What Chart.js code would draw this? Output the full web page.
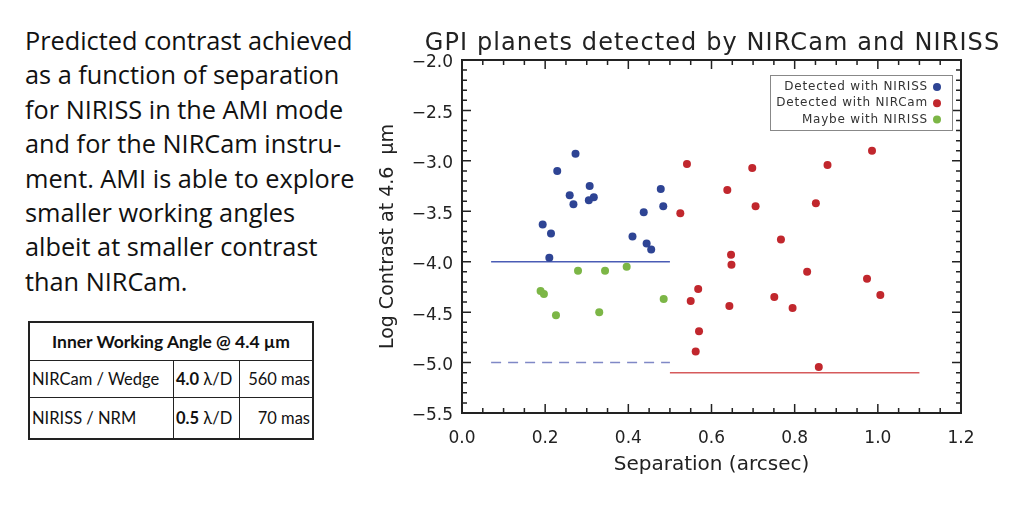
<!DOCTYPE html>
<html>
<head>
<meta charset="UTF-8">
<title>GPI planets detected by NIRCam and NIRISS</title>
<script src="https://cdn.jsdelivr.net/npm/chart.js"></script>
<style>
  body { margin: 0; background: #fff; width: 1024px; height: 512px; overflow: hidden; position: relative; }
  #blurb { position: absolute; left: 25px; top: 23px; font-family: "Open Sans", sans-serif; font-size: 25.3px; line-height: 34.4px; color: #111; white-space: nowrap; }
  #iwa { position: absolute; left: 28px; top: 321px; border-collapse: collapse; border: 2px solid #222; font-family: Lato, sans-serif; font-size: 16.5px; color: #111; }
  #iwa td { border: 1px solid #222; padding: 0 2px; white-space: nowrap; }
  #iwa .hd { font-weight: bold; text-align: center; height: 37px; font-size: 17.5px; }
  #iwa .r { text-align: right; }
  #wrap { position: absolute; left: 360px; top: 0; width: 664px; height: 512px; }
</style>
</head>
<body>
<div id="blurb">Predicted contrast achieved<br>as a function of separation<br>for NIRISS in the AMI mode<br>and for the NIRCam instru-<br>ment. AMI is able to explore<br>smaller working angles<br>albeit at smaller contrast<br>than NIRCam.</div>

<table id="iwa">
  <tr><td class="hd" colspan="3">Inner Working Angle @ 4.4 µm</td></tr>
  <tr style="height:37px"><td style="width:139px">NIRCam / Wedge</td><td style="width:61px"><b>4.0</b> λ/D</td><td class="r" style="width:68px">560 mas</td></tr>
  <tr style="height:41px"><td>NIRISS / NRM</td><td><b>0.5</b> λ/D</td><td class="r">70 mas</td></tr>
</table>

<div id="wrap"><canvas id="gpiChart" width="664" height="512"></canvas></div>

<script>
// separation (arcsec) and log contrast at 4.6 um
const nirissSep = [0.273, 0.229, 0.307, 0.259, 0.268, 0.305, 0.317, 0.478, 0.484, 0.437, 0.194, 0.214, 0.410, 0.444, 0.455, 0.210];
const nirissContrast = [-2.93, -3.10, -3.25, -3.34, -3.43, -3.39, -3.36, -3.28, -3.45, -3.51, -3.63, -3.72, -3.75, -3.82, -3.88, -3.96];

const nircamSep = [0.541, 0.698, 0.879, 0.986, 0.638, 0.706, 0.851, 0.525, 0.767, 0.647, 0.648, 0.830, 0.974, 1.006, 0.568, 0.550, 0.751, 0.643, 0.795, 0.570, 0.562, 0.858];
const nircamContrast = [-3.03, -3.07, -3.04, -2.90, -3.29, -3.45, -3.42, -3.52, -3.78, -3.93, -4.03, -4.10, -4.17, -4.33, -4.27, -4.39, -4.35, -4.44, -4.46, -4.69, -4.89, -5.045];

const maybeSep = [0.279, 0.344, 0.396, 0.189, 0.197, 0.226, 0.330, 0.485];
const maybeContrast = [-4.09, -4.09, -4.05, -4.29, -4.32, -4.53, -4.50, -4.37];

// detection limits
const nirissLimitSep = [0.07, 0.50];
const nirissLimit = -4.0;
const nirissFaintSep = [0.07, 0.50];
const nirissFaint = -5.0;
const nircamLimitSep = [0.50, 1.10];
const nircamLimit = -5.1;

const xTicks = [0.0, 0.2, 0.4, 0.6, 0.8, 1.0, 1.2];
const yTicks = [-5.5, -5.0, -4.5, -4.0, -3.5, -3.0, -2.5, -2.0];

const titleText = 'GPI planets detected by NIRCam and NIRISS';

const pts = (xs, ys) => xs.map((x, i) => ({x: x, y: ys[i]}));
const flat = (xs, y) => xs.map(x => ({x: x, y: y}));
const fmt = v => v.toFixed(1).replace('-', '\u2212');

const axisFont = {family: '"DejaVu Sans"', size: 17};

// inward ticks on all four sides plus the frame
const frameTicks = {
  id: 'frameTicks',
  afterDatasetsDraw(chart) {
    const {ctx, chartArea: a, scales: {x, y}} = chart;
    ctx.save();
    ctx.strokeStyle = '#222';
    ctx.lineWidth = 1.5;
    ctx.beginPath();
    for (let i = 0; i <= 24; i++) {
      const px = x.getPixelForValue(x.min + i * 0.05);
      const len = i % 4 === 0 ? 9 : 5;
      ctx.moveTo(px, a.bottom); ctx.lineTo(px, a.bottom - len);
      ctx.moveTo(px, a.top); ctx.lineTo(px, a.top + len);
    }
    for (let i = 0; i <= 35; i++) {
      const py = y.getPixelForValue(y.min + i * 0.1);
      const len = i % 5 === 0 ? 9 : 5;
      ctx.moveTo(a.left, py); ctx.lineTo(a.left + len, py);
      ctx.moveTo(a.right, py); ctx.lineTo(a.right - len, py);
    }
    ctx.stroke();
    ctx.lineWidth = 2;
    ctx.strokeRect(a.left, a.top, a.right - a.left, a.bottom - a.top);
    ctx.restore();
  }
};

// wide-spaced title above the plot, centred on the plot area
const spacedTitle = {
  id: 'spacedTitle',
  afterDraw(chart) {
    const {ctx, chartArea: a} = chart;
    ctx.save();
    ctx.font = '24px "DejaVu Sans"';
    ctx.letterSpacing = '1.1px';
    ctx.fillStyle = '#222';
    ctx.textAlign = 'center';
    ctx.textBaseline = 'alphabetic';
    ctx.fillText(titleText, (a.left + a.right) / 2 + 1, 50);
    ctx.restore();
  }
};

// boxed legend, text right-aligned with the dot after it
const boxLegend = {
  id: 'boxLegend',
  afterDraw(chart) {
    const {ctx, chartArea: a} = chart;
    const sets = chart.data.datasets.filter(d => !d.type);
    const bx = a.right - 191, by = a.top + 15;
    ctx.save();
    ctx.fillStyle = '#fff';
    ctx.fillRect(bx, by, 182, 55);
    ctx.strokeStyle = '#888';
    ctx.lineWidth = 1;
    ctx.strokeRect(bx + 0.5, by + 0.5, 182, 55);
    ctx.font = '12px "DejaVu Sans"';
    ctx.letterSpacing = '0.8px';
    ctx.textAlign = 'right';
    ctx.textBaseline = 'middle';
    sets.forEach((d, i) => {
      const ty = by + 12 + i * 16.3;
      ctx.fillStyle = '#333';
      ctx.fillText(d.label, a.right - 33, ty);
      ctx.fillStyle = d.backgroundColor;
      ctx.beginPath();
      ctx.arc(a.right - 24, ty, 4, 0, Math.PI * 2);
      ctx.fill();
    });
    ctx.restore();
  }
};

new Chart(document.getElementById('gpiChart'), {
  type: 'scatter',
  data: {
    datasets: [
      {label: 'Detected with NIRISS', data: pts(nirissSep, nirissContrast), backgroundColor: '#2e4494', pointRadius: 4, borderWidth: 0, order: 1},
      {label: 'Detected with NIRCam', data: pts(nircamSep, nircamContrast), backgroundColor: '#c1272d', pointRadius: 4, borderWidth: 0, order: 1},
      {label: 'Maybe with NIRISS', data: pts(maybeSep, maybeContrast), backgroundColor: '#7cb646', pointRadius: 4, borderWidth: 0, order: 1},
      {type: 'line', label: 'NIRISS limit', data: flat(nirissLimitSep, nirissLimit), borderColor: '#4a5cb5', borderWidth: 1.5, pointRadius: 0, order: 5},
      {type: 'line', label: 'NIRISS faint', data: flat(nirissFaintSep, nirissFaint), borderColor: '#7f88c6', borderWidth: 1.5, borderDash: [10, 7], pointRadius: 0, order: 5},
      {type: 'line', label: 'NIRCam limit', data: flat(nircamLimitSep, nircamLimit), borderColor: '#d65a5c', borderWidth: 1.5, pointRadius: 0, order: 5}
    ]
  },
  options: {
    responsive: false,
    animation: false,
    layout: {padding: {left: 0, right: 63, top: 60, bottom: 0}},
    plugins: {
      legend: {display: false},
      tooltip: {enabled: false},
      title: {display: false}
    },
    scales: {
      x: {
        type: 'linear',
        min: 0, max: 1.2,
        afterFit: s => { s.height = 99; },
        afterBuildTicks: s => { s.ticks = xTicks.map(v => ({value: v})); },
        grid: {display: false, drawTicks: false},
        border: {display: false},
        ticks: {color: '#222', font: axisFont, padding: 15, maxRotation: 0, callback: fmt},
        title: {display: true, text: 'Separation (arcsec)', color: '#222', font: {family: '"DejaVu Sans"', size: 20}, padding: {top: 0, bottom: 35}}
      },
      y: {
        type: 'linear',
        min: -5.5, max: -2.0,
        afterFit: s => { s.width = 102; },
        afterBuildTicks: s => { s.ticks = yTicks.map(v => ({value: v})); },
        grid: {display: false, drawTicks: false},
        border: {display: false},
        ticks: {color: '#222', font: axisFont, padding: 9, labelOffset: 3, callback: fmt},
        title: {display: true, text: 'Log Contrast at 4.6  \u03bcm', color: '#222', font: {family: '"DejaVu Sans"', size: 19}, padding: {top: 17, bottom: 0}}
      }
    }
  },
  plugins: [frameTicks, spacedTitle, boxLegend]
});
</script>
</body>
</html>
